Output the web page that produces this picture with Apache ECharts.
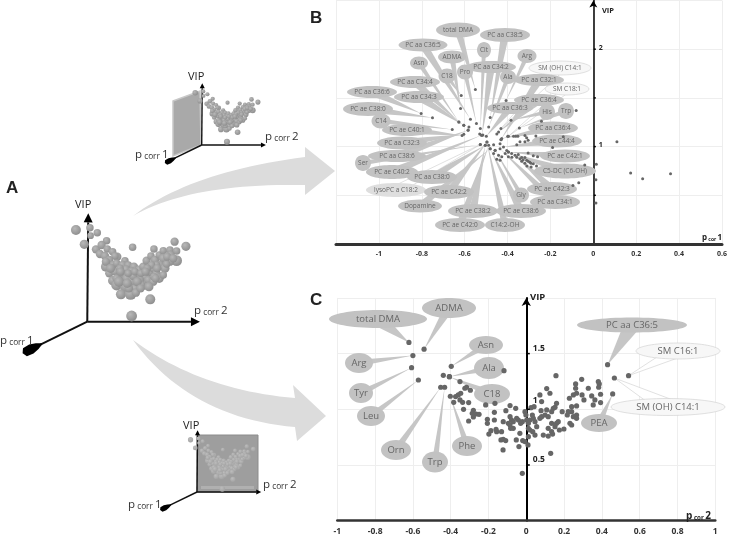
<!DOCTYPE html>
<html>
<head>
<meta charset="utf-8">
<title>VIP plots</title>
<script src="https://cdn.jsdelivr.net/npm/echarts@6/dist/echarts.min.js"></script>
<style>
  html, body { margin: 0; background: #fff; }
  #chart { width: 730px; height: 537px; }
</style>
</head>
<body>
<div id="chart"></div>
<script>
  /******************/
  //region    //data

  // panel A cloud: p corr 2, VIP, p corr 1 depth (arbitrary units, no scale in the figure)
  let cloud = [
    [-34,275,12],[8,282,9],[30,267,9],[10,258,8],[-9,232,11],[58,243,9],[136,223,9],[200,218,9],[262,240,10],[296,226,11],
    [133,17,13],[189,67,12],[26,217,10],[43,230,10],[38,203,10],[60,218,9],[76,210,9],[53,197,10],[90,195,10],[83,197,9],
    [66,185,10],[56,165,12],[78,170,10],[88,175,9],[66,145,10],[56,180,10],[113,183,9],[76,123,11],[88,110,13],[98,137,11],
    [106,170,10],[123,170,9],[116,157,10],[140,165,10],[133,150,11],[108,143,10],[118,130,11],[101,115,10],[116,105,14],[133,120,11],
    [148,133,11],[143,100,10],[101,82,12],[130,83,14],[146,87,10],[156,155,11],[168,165,10],[178,183,10],[191,197,9],[173,135,11],
    [171,111,12],[188,150,11],[183,125,10],[198,160,10],[203,185,10],[216,200,9],[228,213,9],[248,215,9],[268,212,9],[250,200,10],
    [268,183,13],[248,180,10],[228,190,11],[218,170,10],[233,160,11],[208,145,10],[216,130,11],[198,120,10],[158,125,10],[200,135,9],
    [228,140,9],[238,173,9],[208,170,9],[193,170,9],[83,150,9],[138,137,10],[123,145,9],[163,110,9],[143,150,9],[161,145,9],
    [180,160,9],[98,160,9],[88,130,10],[100,150,10],[150,120,11],[125,100,10],[175,150,10],[210,160,10],[240,195,10],[258,190,10],
    [70,160,11],[95,120,12],[120,115,11],[160,100,10],[185,105,11],[205,130,10]
  ];
  let axisTips = [[338, 0], [3, 325], [-194, -95]];

  // panel B
  let bNames = [
    'total DMA','PC aa C38:5','PC aa C36:5','Cit','ADMA','Arg','Pro','Asn','C18','PC aa C34:2','Ala','SM (OH) C14:1','PC aa C32:1','SM C18:1',
    'PC aa C34:4','PC aa C36:6','PC aa C34:3','PC ae C36:4','PC ae C38:0','PC aa C36:3','His','Trp','C14','PC ae C40:1','PC aa C36:4',
    'PC aa C32:3','PC ae C44:4','PC aa C38:6','PC ae C42:1','Ser','PC ae C40:2','C5-DC (C6-OH)','PC aa C38:0','lysoPC a C18:2','PC ae C42:3',
    'PC ae C42:2','Gly','PC aa C34:1','Dopamine','PC ae C38:2','PC ae C38:6','PC ae C42:0','C14:2-OH'
  ];
  let bAnchors = [
    [-.55,1.586],[-.481,1.298],[-.573,1.281],[-.527,1.185],[-.619,1.39],[-.407,1.473],[-.545,1.236],[-.627,1.253],[-.616,1.524],[-.519,1.116],[-.488,1.202],[-.431,1.185],[-.431,1.072],[-.396,1.106],
    [-.627,1.253],[-.803,1.339],[-.604,1.219],[-.442,1.151],[-.75,1.295],[-.499,1.106],[-.384,1.271],[-.345,1.192],[-.658,1.175],[-.612,1.113],[-.427,1.082],
    [-.604,1.127],[-.419,.997],[-.584,1.168],[-.396,.945],[-.527,1.021],[-.522,1.116],[-.381,.928],[-.504,1.014],[-.527,1.021],[-.365,.911],
    [-.496,1.048],[-.458,.962],[-.435,.979],[-.481,.979],[-.504,1.014],[-.481,.979],[-.488,1.014],[-.496,1.048]
  ];
  let bPoints = [
    [.11,1.05],[.174,.73],[.23,.67],[.36,.72],[.014,.82],[.012,.66],[.012,.42],[-.068,.63],[-.095,.6],[-.04,.81],[-.08,1.37],[-.19,.99],
    [-.242,1.26],[-.604,1.22],[-.58,1.2],[-.584,1.17],[-.53,1.13],[-.515,1.12],[-.45,1.13],
    [-.465,1.02],[-.435,1.03],[-.458,.96],[-.404,.96],[-.396,.945],[-.357,.89],[-.342,.875],[-.327,.865],[-.311,.86],[-.296,.84],[-.28,.825],[-.265,.8],
    [-.442,.91],[-.427,.895],[-.465,.93],[-.411,.93],[-.396,.895],[-.334,.887],[-.319,.887],[-.304,.935],[-.28,.905],[-.26,.895],
    [-.372,1.105],[-.362,1.105],[-.352,1.105],[-.319,1.115],[-.311,1.09],[-.304,1.065],[-.268,1.11],[-.357,1.02],[-.319,1.05],[-.342,1.05],
    [-.304,.85],[-.291,.83],[-.319,.83],[-.334,.85],[-.399,1.105],[-.43,1.07],[-.45,.87],[-.435,.86],[-.38,.89],[-.35,.92],[-.31,.8],[-.29,.79],[-.14,1.1]
  ];
  let bVipTicks = [0.5, 1, 1.5, 2];
  let bVipLabels = [1, 2];

  // panel C
  let cNames = ['total DMA','ADMA','Arg','Tyr','Leu','Orn','Trp','Phe','Asn','Ala','C18','PC aa C36:5','SM C16:1','SM (OH) C14:1','PEA'];
  let cAnchors = [
    [-.621,1.6],[-.541,1.54],[-.6,1.482],[-.607,1.374],[-.571,1.263],[-.453,1.198],[-.432,1.198],[-.402,1.117],[-.397,1.386],[-.407,1.293],[-.407,1.293],
    [.43,1.401],[.541,1.302],[.466,1.281],[.457,1.138]
  ];
  let cPoints = [
    [-.439,1.305],[-.374,1.114],[-.36,1.129],[-.347,1.144],[-.384,1.063],[-.351,1.084],[-.337,1.063],[-.305,1.06],[-.332,1],[-.28,.991],[-.286,.964],[-.265,.958],[-.25,.955],
    [-.305,.895],[-.28,.931],[-.325,1.189],[-.316,1.198],[-.296,1.171],[-.351,1.249],[-.118,1.347],[-.215,1.039],[-.166,1.054],
    [-.206,.91],[-.206,.874],[-.198,.778],[-.187,.808],[-.169,.973],[-.169,.904],[-.16,.82],[-.157,.799],[-.131,.799],[-.122,.889],[-.134,.725],[-.122,.731],[-.109,.719],[-.123,.635],
    [-.086,1.033],[-.056,1.009],[-.108,.988],[-.086,.934],[-.078,.904],[-.095,.874],[-.086,.859],[-.069,.889],[-.069,.829],[-.083,.829],[-.051,.919],[-.042,.904],[-.03,.874],[-.021,.889],
    [-.007,.979],[-.002,.949],[.002,.904],[.011,.874],[.019,.904],[.037,.919],[.011,.829],[.019,.814],[.034,.799],[.046,.769],[-.034,.784],[-.053,.725],[-.019,.719],[-.039,.665],[-.007,.71],[.009,.68],
    [.025,1.015],[.041,1.024],[.032,.949],[.072,1.129],[.081,1.069],[.108,1.186],[.125,1.144],[.157,1.302],[.078,.988],[.072,.919],[.046,.889],[.081,.934],[.108,.994],[.099,.949],[.116,.934],
    [.134,.979],[.143,1.009],[.152,1.018],[.16,1.054],[.134,.874],[.16,.874],[.169,.889],[.152,.844],[.116,.829],[.09,.769],[.116,.76],[.134,.799],[.139,.778],[.175,.814],[.199,.823],
    [.19,.979],[.217,.949],[.222,.979],[.24,1.024],[.266,1.03],[.228,1.099],[.249,1.129],[.266,1.144],[.261,1.189],[.261,1.228],[.293,1.269],[.295,1.129],[.305,1.084],[.328,1.189],
    [.346,1.12],[.363,1.084],[.354,1.039],[.381,1.249],[.386,1.228],[.383,1.198],[.393,1.135],[.393,1.06],[.24,.979],[.249,.934],[.266,.949],[.266,.919],[.231,.874],[.24,.859],
    [.129,.605],[-.021,.425],[.055,.844],[.011,.754]
  ];
  let cVipTicks = [0.5, 1, 1.5];
  let cVipLabels = [0.5, 1, 1.5];

  //endregion

  /******************/
  //region    //layout

  // ellipse placement on the page: cx, cy, rx, ry, outlined
  let bBubbles = [
    [458,30,22,7.5],[505,35,25,7],[423,45,24.5,6.5],[484,50,7,8],[452,57,14,6.5],[527,56,9.5,7],[465,72,8,7.5],[419,63,9,6.5],[447,76,8.5,7.5],[491,67,25,6],[508,77,8,7],[560,68,31,7,1],[539,80,25,6],[567,89,22,6,1],
    [415,82,25,6],[372,92,25,6],[419,97,25,6],[539,100,25,6],[368,109,25,7],[510,108,23,6],[547,112,8,8],[566,111,8,8],[381,121,9.5,7.5],[407,130,25,6],[553,128,25,6.5],
    [402,143,25,6.5],[557,141,25,6.5],[397,156,29,6],[565,156,25,6.5],[363,163,8,8],[392,172,26,7],[565,171,31,7.5],[432,177,25,7],[396,190,30,7,2],[552,189,25,7],
    [449,192,25,7],[521,195,8,7.5],[555,202,25,7],[420,206,22,6.5],[473,211,25,7],[521,211,25,7],[460,225,25,7],[505,225,20,7]
  ];
  let cBubbles = [
    [378,319,49,9],[449,308,27,10],[359,363,14,10],[361,393,12,10],[371,416,14,10],[396,450,15,10],[435,462,13,10.5],[467,446,15,10],[486,345,17,9],[489,368,15,11],[492,394,18,10],
    [632,325,55,7.5],[678,351,42,8,1],[668,407,57,8.5,1],[599,423,18,9]
  ];

  //endregion

  /******************/
  //region    //helpers

  let sphere = (light, dark) => new echarts.graphic.RadialGradient(0.38, 0.35, 0.7, [
    {offset: 0, color: light},
    {offset: 1, color: dark}
  ]);

  // quadratic curve as polygon points
  function curve(p0, c, p1) {
    let out = [];
    for (let i = 0; i <= 24; i++) {
      let t = i / 24, s = 1 - t;
      out.push([s * s * p0[0] + 2 * s * t * c[0] + t * t * p1[0], s * s * p0[1] + 2 * s * t * c[1] + t * t * p1[1]]);
    }
    return out;
  }

  // wedge from a bubble to its point, drawn under every bubble
  function wedgeSeries(anchors, bubbles, grid, baseK) {
    return {
      type: 'custom', xAxisIndex: grid, yAxisIndex: grid, z: 3, silent: true, clip: false,
      data: anchors,
      renderItem: (params, api) => {
        let p = api.coord([api.value(0), api.value(1)]);
        let b = bubbles[params.dataIndex];
        let halfBase = 1.5 + b[2] * baseK;
        let dx = p[0] - b[0], dy = p[1] - b[1];
        let len = Math.sqrt(dx * dx + dy * dy) || 1;
        let nx = -dy / len * halfBase, ny = dx / len * halfBase;
        return {
          type: 'polygon',
          shape: {points: [[b[0] + nx, b[1] + ny], [b[0] - nx, b[1] - ny], p]},
          style: b[4] ? {fill: '#fff', stroke: '#ccc', lineWidth: 0.6} : {fill: '#c6c6c6'}
        };
      }
    };
  }

  function bubbleSeries(names, anchors, bubbles, grid, fontSize) {
    return {
      type: 'custom', xAxisIndex: grid, yAxisIndex: grid, z: 4, silent: true, clip: false,
      data: anchors,
      renderItem: (params) => {
        let b = bubbles[params.dataIndex];
        return {
          type: 'ellipse',
          shape: {cx: b[0], cy: b[1], rx: b[2], ry: b[3]},
          style: {
            fill: b[4] === 1 ? '#f7f7f7' : b[4] === 2 ? '#dedede' : '#c2c2c2',
            stroke: b[4] === 1 ? '#ccc' : 'none',
            lineWidth: 0.6
          },
          textConfig: {position: 'inside'},
          textContent: {
            style: {text: names[params.dataIndex], fontSize: fontSize, fontFamily: '"Open Sans", sans-serif', fill: '#666'}
          }
        };
      }
    };
  }

  // the three arrows of a 3D sketch
  function arrowSeries(grid, lw, head) {
    return {
      type: 'custom', xAxisIndex: grid, yAxisIndex: grid, z: 2, silent: true, clip: false,
      data: axisTips,
      renderItem: (params, api) => {
        let o = api.coord([0, 0]);
        let t = api.coord([api.value(0), api.value(1)]);
        let dx = t[0] - o[0], dy = t[1] - o[1];
        let len = Math.sqrt(dx * dx + dy * dy);
        let ux = dx / len, uy = dy / len;
        let at = (back, side) => [t[0] - ux * back - uy * side, t[1] - uy * back + ux * side];
        let points;
        if (params.dataIndex === 2) {
          // the p corr 1 arrow ends in a fat blob
          let h = head * 2.4, w = head * 0.55;
          points = [at(0, 0), at(h * 0.12, w * 0.9), at(h * 0.45, w), at(h * 0.75, w * 0.65), at(h, 0.6),
            at(h, -0.6), at(h * 0.75, -w * 0.65), at(h * 0.45, -w), at(h * 0.12, -w * 0.9)];
        } else {
          points = [at(0, 0), at(head, head * 0.5), at(head, -head * 0.5)];
        }
        let tail = params.dataIndex === 2 ? at(head * 2.2, 0) : at(head, 0);
        return {
          type: 'group',
          children: [
            {type: 'line', shape: {x1: o[0], y1: o[1], x2: tail[0], y2: tail[1]}, style: {stroke: '#111', lineWidth: lw}},
            {type: 'polygon', shape: {points: points}, style: {fill: '#000'}}
          ]
        };
      }
    };
  }

  function cloudSeries(grid, scale, color) {
    return {
      type: 'scatter', xAxisIndex: grid, yAxisIndex: grid, z: 3, silent: true,
      data: cloud,
      symbolSize: (v) => v[2] * 2 / 3 * scale,
      itemStyle: {color: color, opacity: 1}
    };
  }

  // VIP ticks and their numbers sit next to the central axis, not at the grid edge
  function vipTickSeries(ticks, labels, grid, fontSize, distance, tickSize, shift) {
    return {
      type: 'scatter', xAxisIndex: grid, yAxisIndex: grid, z: 6, silent: true,
      symbol: 'rect',
      symbolSize: tickSize,
      symbolOffset: [tickSize[0] / 2 + 0.5, 0],
      itemStyle: {color: '#000', opacity: 1},
      data: ticks.map((v) => [0, v]),
      label: {
        show: true, position: 'right', distance: distance,
        color: '#222', fontSize: fontSize, fontWeight: 'bold',
        fontFamily: '"Open Sans", sans-serif',
        formatter: (p) => labels.indexOf(p.value[1]) >= 0 ? String(p.value[1]) : ''
      },
      labelLayout: (params) => ({dy: shift(ticks[params.dataIndex])})
    };
  }

  function label3d(x, y, suffix, size) {
    return {
      type: 'text', x: x, y: y, z: 10,
      style: {
        text: '{a|p}{b| corr }{a|' + suffix + '}',
        rich: {
          a: {fontSize: size, lineHeight: 14, verticalAlign: 'bottom', fontFamily: '"Open Sans", sans-serif', fill: '#333'},
          b: {fontSize: size * 0.72, lineHeight: 12, verticalAlign: 'bottom', fontFamily: '"Open Sans", sans-serif', fill: '#333'}
        }
      }
    };
  }

  function plainText(x, y, text, size, weight, family) {
    return {
      type: 'text', x: x, y: y, z: 10,
      style: {text: text, fontSize: size, fontWeight: weight || 'normal', fontFamily: family || '"Open Sans", sans-serif', fill: '#222'}
    };
  }

  function valueAxes(min, max, size, lineW) {
    return {
      type: 'value', min: min, max: max, interval: 0.2,
      axisLine: {onZero: false, lineStyle: {color: '#333', width: lineW}},
      axisTick: {show: false},
      axisLabel: {
        color: '#333', fontSize: size, fontWeight: 'bold', margin: 6,
        fontFamily: '"Open Sans", sans-serif', showMinLabel: min === -1
      },
      splitLine: {show: true, lineStyle: {color: '#eee', width: 1}}
    };
  }

  function vipAxis(max, arrow, lineW) {
    return {
      type: 'value', min: 0, max: max, interval: 0.5,
      axisLine: {show: true, onZero: true, symbol: ['none', 'arrow'], symbolSize: arrow, lineStyle: {color: '#000', width: lineW}},
      axisTick: {show: false},
      axisLabel: {show: false},
      splitLine: {show: true, lineStyle: {color: '#eee', width: 1}}
    };
  }

  function hiddenAxis(min, max) {
    return {type: 'value', min: min, max: max, show: false};
  }

  //endregion

  /******************/
  //region    //chart

  let chart = echarts.init(document.getElementById('chart'), null, {renderer: 'canvas'});

  let swooshTop = curve([133, 216], [190, 172], [305, 157])
    .concat([[305, 147], [335, 171], [305, 195]])
    .concat(curve([305, 185], [190, 183], [133, 216]));
  let swooshBottom = curve([133, 340], [200, 390], [295, 398])
    .concat([[293, 385], [326, 416], [297, 441]])
    .concat(curve([295, 427], [190, 418], [133, 340]));

  let richCor = (size) => ({
    a: {fontSize: size, lineHeight: size + 3, verticalAlign: 'bottom', fontWeight: 'bold', fill: '#222', fontFamily: '"Open Sans", sans-serif'},
    b: {fontSize: size * 0.62, lineHeight: size + 1, verticalAlign: 'bottom', fontWeight: 'bold', fill: '#222', fontFamily: '"Open Sans", sans-serif'}
  });

  chart.setOption({
    animation: false,
    backgroundColor: '#fff',
    graphic: {elements: [
      // swooshes between the panels
      {type: 'polygon', z: 0, shape: {points: swooshTop}, style: {fill: '#dcdcdc'}},
      {type: 'polygon', z: 0, shape: {points: swooshBottom}, style: {fill: '#dcdcdc'}},
      // projection planes of the small sketches
      {type: 'polygon', z: 1, shape: {points: [[173,101],[200,91],[201,145],[173,156]]}, style: {fill: '#a9a9a9', stroke: '#c8c8c8', lineWidth: 1.5}},
      {type: 'rect', z: 1, shape: {x: 197, y: 435, width: 61, height: 57}, style: {fill: '#9e9e9e', stroke: '#8c8c8c', lineWidth: 1}},
      {type: 'rect', z: 1, shape: {x: 201, y: 486, width: 53, height: 3}, style: {fill: '#b0b0b0'}},
      // panel letters
      plainText(6, 180, 'A', 17, 'bold', '"Liberation Sans", sans-serif'),
      plainText(310, 10, 'B', 17, 'bold', '"Liberation Sans", sans-serif'),
      plainText(310, 292, 'C', 17, 'bold', '"Liberation Sans", sans-serif'),
      // sketch labels
      plainText(75, 199, 'VIP', 11),
      label3d(194, 303, '2', 11.5), label3d(0, 333, '1', 11.5),
      plainText(188, 71, 'VIP', 11),
      label3d(265, 129, '2', 11.5), label3d(135, 147, '1', 11.5),
      plainText(183, 420, 'VIP', 11),
      label3d(263, 477, '2', 11.5), label3d(128, 497, '1', 11.5),
      // chart axis names
      plainText(602, 7, 'VIP', 7.5, 'bold'),
      {type: 'text', x: 702, y: 231, z: 10, style: {text: '{a|p}{b| cor }{a|1}', rich: richCor(8)}},
      plainText(530, 292, 'VIP', 9.5, 'bold'),
      {type: 'text', x: 686, y: 508, z: 10, style: {text: '{a|p}{b| cor }{a|2}', rich: richCor(10)}}
    ]},
    grid: [
      {left: 20.6, top: 211.7, width: 180, height: 143.3},
      {left: 163.7, top: 82.3, width: 102.6, height: 81.7},
      {left: 159, top: 429.3, width: 102.6, height: 81.7},
      {left: 336, top: 0.5, width: 389.5, height: 243.5},
      {left: 337.3, top: 297.9, width: 378, height: 222.8}
    ],
    xAxis: [
      hiddenAxis(-200, 340), hiddenAxis(-200, 340), hiddenAxis(-200, 340),
      valueAxes(-1.2, 0.6, 7, 3),
      valueAxes(-1, 1, 8.5, 2.5)
    ].map((a, i) => Object.assign({gridIndex: i}, a)),
    yAxis: [
      hiddenAxis(-100, 330), hiddenAxis(-100, 330), hiddenAxis(-100, 330),
      vipAxis(2.5, [6, 7], 1.5),
      vipAxis(2, [7, 8], 2)
    ].map((a, i) => Object.assign({gridIndex: i}, a)),
    series: [
      arrowSeries(0, 2, 9),
      cloudSeries(0, 1.25, sphere('#b8b8b8', '#8c8c8c')),
      arrowSeries(1, 1.4, 5),
      cloudSeries(1, 0.7, sphere('#b8b8b8', '#8c8c8c')),
      arrowSeries(2, 1.4, 5),
      cloudSeries(2, 0.66, sphere('#bcbcbc', '#a2a2a2')),
      wedgeSeries(bAnchors, bBubbles, 3, 0.1),
      bubbleSeries(bNames, bAnchors, bBubbles, 3, 6.5),
      {
        type: 'scatter', xAxisIndex: 3, yAxisIndex: 3, z: 5, silent: true,
        data: bPoints.concat(bAnchors), symbolSize: 3, itemStyle: {color: '#666', opacity: 1}
      },
      vipTickSeries(bVipTicks, bVipLabels, 3, 7, 3, [2, 1.5], () => -1.5),
      wedgeSeries(cAnchors, cBubbles, 4, 0.12),
      bubbleSeries(cNames, cAnchors, cBubbles, 4, 9.5),
      {
        type: 'scatter', xAxisIndex: 4, yAxisIndex: 4, z: 5, silent: true,
        data: cPoints.concat(cAnchors), symbolSize: 5.2, itemStyle: {color: '#666', opacity: 1}
      },
      vipTickSeries(cVipTicks, cVipLabels, 4, 8.5, 3, [3, 1.5], (v) => v === 1 ? -9 : -5)
    ]
  });

  //endregion
</script>
</body>
</html>
